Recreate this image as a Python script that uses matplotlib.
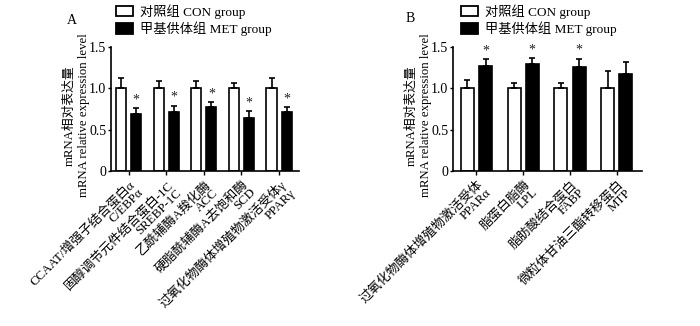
import matplotlib
matplotlib.use("Agg")
import matplotlib.pyplot as plt
from matplotlib.patches import Patch
import numpy as np

plt.rcParams['font.family'] = ['Liberation Serif', 'Noto Sans CJK SC']
plt.rcParams['mathtext.fontset'] = 'stix'

# Panel A data
a_labels = ["CCAAT/增强子结合蛋白α\nC/EBPα", "固醇调节元件结合蛋白-1C\nSREBP-1C",
            "乙酰辅酶A羧化酶\nACC", "硬脂酰辅酶A去饱和酶\nSCD",
            "过氧化物酶体增殖物激活受体γ\nPPARγ"]
a_con = [1.0, 1.0, 1.0, 1.0, 1.0]
a_con_err = [0.13, 0.09, 0.09, 0.06, 0.12]
a_met = [0.69, 0.71, 0.78, 0.64, 0.71]
a_met_err = [0.07, 0.08, 0.055, 0.08, 0.065]
a_sig = [True, True, True, True, True]

# Panel B data
b_labels = ["过氧化物酶体增殖物激活受体\nPPARα", "脂蛋白脂酶\nLPL",
            "脂肪酸结合蛋白\nFABP", "微粒体甘油三酯转移蛋白\nMTP"]
b_con = [1.0, 1.0, 1.0, 1.0]
b_con_err = [0.10, 0.07, 0.06, 0.21]
b_met = [1.27, 1.29, 1.26, 1.17]
b_met_err = [0.08, 0.08, 0.10, 0.15]
b_sig = [True, True, True, False]

legend_labels = ["对照组 CON group", "甲基供体组 MET group"]
yticks = [0, 0.5, 1.0, 1.5]
ytick_labels = ["0", "0.5", "1.0", "1.5"]

fig = plt.figure(figsize=(7.0, 3.26), dpi=100)
H = 326.0
W = 700.0
axA = fig.add_axes([111 / W, 1 - 171 / H, (299 - 111) / W, (171 - 47) / H])
axB = fig.add_axes([453 / W, 1 - 171 / H, (642 - 453) / W, (171 - 47) / H])


def draw(ax, labels, con, con_err, met, met_err, sig, xlim, width, off, panel, leg_x):
    x = np.arange(len(labels))
    ax.bar(x - off, con, width, color='white', edgecolor='black', linewidth=1.2, zorder=2)
    ax.bar(x + off, met, width, color='black', edgecolor='black', linewidth=1.2, zorder=2)
    ax.errorbar(x - off, con, yerr=[np.zeros(len(con)), con_err], fmt='none',
                ecolor='black', elinewidth=1.2, capsize=2.4, capthick=1.2, zorder=3)
    ax.errorbar(x + off, met, yerr=[np.zeros(len(met)), met_err], fmt='none',
                ecolor='black', elinewidth=1.2, capsize=2.4, capthick=1.2, zorder=3)
    for xi, m, e, s in zip(x, met, met_err, sig):
        if s:
            ax.text(xi + off, m + e + 0.02, "*", ha='center', va='bottom', fontsize=10,
                    color='#222222')
    ax.set_xlim(*xlim)
    ax.set_ylim(0, 1.5)
    ax.set_yticks(yticks)
    ax.set_yticklabels(ytick_labels, fontsize=10)
    ax.set_xticks(x)
    ax.set_xticklabels(labels, rotation=45, ha='right', rotation_mode='anchor',
                       fontsize=9.3, multialignment='right', linespacing=0.95)
    for s in ['top', 'right']:
        ax.spines[s].set_visible(False)
    for s in ['left', 'bottom']:
        ax.spines[s].set_linewidth(1.2)
    ax.tick_params(axis='y', direction='out', length=2.5, width=1.0, pad=1)
    ax.tick_params(axis='x', direction='out', length=3, width=1.0, pad=2)
    ax.set_ylabel("mRNA相对表达量\nmRNA relative expression level", fontsize=9.2,
                  linespacing=1.25)
    ax.yaxis.set_label_coords(-21 / 188, 0.45)
    ax.text(panel[1], panel[2], panel[0], transform=fig.transFigure, fontsize=10,
            ha='left', va='center')
    handles = [Patch(facecolor='white', edgecolor='black', linewidth=1.3),
               Patch(facecolor='black', edgecolor='black', linewidth=1.3)]
    ax.legend(handles, legend_labels, loc='upper left',
              bbox_to_anchor=(leg_x, 1 - 4 / H), bbox_transform=fig.transFigure,
              frameon=False, fontsize=9.5, handlelength=1.3, handleheight=0.85,
              borderpad=0, labelspacing=0.2, handletextpad=0.5, borderaxespad=0)


draw(axA, a_labels, a_con, a_con_err, a_met, a_met_err, a_sig,
     (-0.467, 4.53), 0.27, 0.2, ("A", 67 / W, 1 - 21 / H), 116 / W)
draw(axB, b_labels, b_con, b_con_err, b_met, b_met_err, b_sig,
     (-0.5, 3.54), 0.28, 0.195, ("B", 406 / W, 1 - 18 / H), 461 / W)

fig.savefig("out.png", dpi=100)
